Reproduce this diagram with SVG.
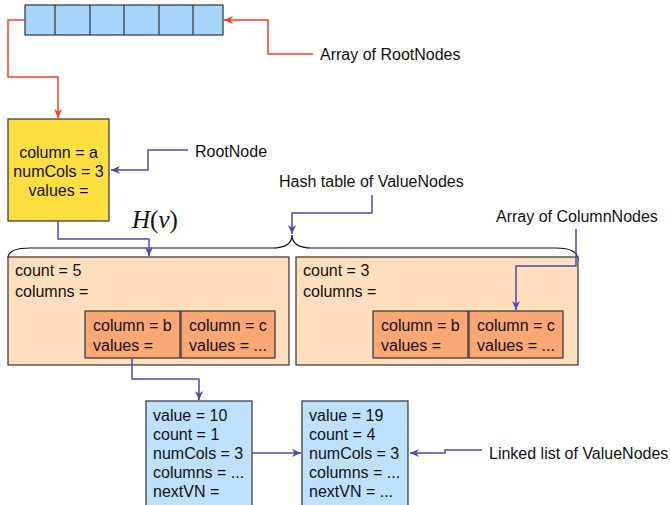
<svg xmlns="http://www.w3.org/2000/svg" width="670" height="505" viewBox="0 0 670 505">
<style>
text{font-family:"Liberation Sans",Arial,sans-serif;font-size:16px;fill:#111}
.box{stroke:#333;stroke-width:1.2}
.arr{fill:#a6d5fd}
.root{fill:#ffde40}
.peach{fill:#ffdebd}
.col{fill:#fba774}
.vn{fill:#bde0fd}
.red{fill:none;stroke:#ff3b1f;stroke-width:1.5;marker-end:url(#mr)}
.blue{fill:none;stroke:#4b4bb0;stroke-width:1.5;marker-end:url(#mb)}
.math{font-family:"Liberation Serif","Times New Roman",serif;font-size:25px}
</style>
<defs>
<marker id="mr" viewBox="0 0 10 10" refX="10" refY="5" markerWidth="10" markerHeight="9" markerUnits="userSpaceOnUse" orient="auto"><path d="M0,0.5 L10,5 L0,9.5 L3,5 z" fill="#ff3b1f"/></marker>
<marker id="mb" viewBox="0 0 10 10" refX="10" refY="5" markerWidth="10" markerHeight="9" markerUnits="userSpaceOnUse" orient="auto"><path d="M0,0.5 L10,5 L0,9.5 L3,5 z" fill="#4b4bb0"/></marker>
</defs>

<g id="array-rootnodes">
<rect class="box arr" x="25" y="5" width="198" height="30"/>
<path d="M55,5V35M90,5V35M124,5V35M159,5V35M193,5V35" stroke="#333" stroke-width="1.2"/>
</g>

<g id="rootnode">
<rect class="box root" x="8" y="119" width="101" height="102"/>
<text x="58.5" y="158" text-anchor="middle">column = a</text>
<text x="58.5" y="177" text-anchor="middle">numCols = 3</text>
<text x="58.5" y="196" text-anchor="middle">values =</text>
</g>

<g id="hv-label">
<text class="math" x="132" y="228"><tspan font-style="italic">H</tspan>(<tspan font-style="italic">v</tspan>)</text>
</g>

<g id="brace">
<path d="M8,258 Q8,248 30,248 L272,248 Q292,248 292,235 Q292,248 312,248 L556,248 Q578,248 578,260" fill="none" stroke="#111" stroke-width="1.2"/>
</g>

<g id="valuenode-hash-left">
<rect class="box peach" x="8" y="257" width="281" height="108"/>
<text x="15" y="276">count = 5</text>
<text x="15" y="297">columns =</text>
</g>
<g id="colnode-left-b">
<rect class="box col" x="85" y="311" width="95" height="47"/>
<text x="93" y="331">column = b</text>
<text x="93" y="351">values =</text>
</g>
<g id="colnode-left-c">
<rect class="box col" x="181" y="311" width="94" height="47"/>
<text x="189" y="331">column = c</text>
<text x="189" y="351">values = ...</text>
</g>

<g id="valuenode-hash-right">
<rect class="box peach" x="296" y="257" width="282" height="108"/>
<text x="303" y="276">count = 3</text>
<text x="303" y="297">columns =</text>
</g>
<g id="colnode-right-b">
<rect class="box col" x="373" y="311" width="95" height="47"/>
<text x="381" y="331">column = b</text>
<text x="381" y="351">values =</text>
</g>
<g id="colnode-right-c">
<rect class="box col" x="469" y="311" width="94" height="47"/>
<text x="477" y="331">column = c</text>
<text x="477" y="351">values = ...</text>
</g>

<g id="valuenode-10">
<rect class="box vn" x="146" y="401" width="106" height="110"/>
<text x="153" y="421">value = 10</text>
<text x="153" y="440">count = 1</text>
<text x="153" y="459">numCols = 3</text>
<text x="153" y="478">columns = ...</text>
<text x="153" y="497">nextVN =</text>
</g>

<g id="valuenode-19">
<rect class="box vn" x="302" y="401" width="106" height="110"/>
<text x="309" y="421">value = 19</text>
<text x="309" y="440">count = 4</text>
<text x="309" y="459">numCols = 3</text>
<text x="309" y="478">columns = ...</text>
<text x="309" y="497">nextVN = ...</text>
</g>

<g id="labels">
<text x="320" y="60">Array of RootNodes</text>
<text x="195" y="157">RootNode</text>
<text x="279" y="187">Hash table of ValueNodes</text>
<text x="496" y="222">Array of ColumnNodes</text>
<text x="489" y="459">Linked list of ValueNodes</text>
</g>

<g id="connectors">
<path class="red" d="M313,54H268V20H224"/>
<path class="red" d="M25,20H8V77H58V118"/>
<path class="blue" d="M188,150H148V170H111"/>
<path class="blue" d="M58,221V239H149V256"/>
<path class="blue" d="M372,195V213H292V234"/>
<path class="blue" d="M576,229V266H516V310"/>
<path class="blue" d="M132,358V379H199V400"/>
<path class="blue" d="M252,453H301"/>
<path class="blue" d="M482,450H445V453H410"/>
</g>
</svg>
